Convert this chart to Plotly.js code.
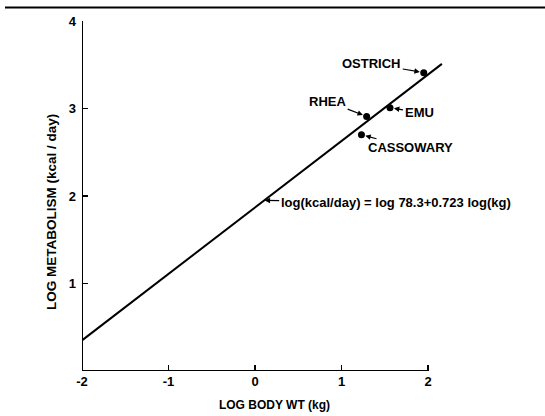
<!DOCTYPE html>
<html>
<head>
<meta charset="utf-8">
<script src="https://cdn.plot.ly/plotly-3.0.1.min.js"></script>
<style>html,body{margin:0;padding:0;background:#fff;}#chart{width:545px;height:416px;}</style>
</head>
<body>
<div id="chart"></div>
<script>
// Regression line endpoints
const lineX = [-2.0, 2.16];
const lineY = [0.35, 3.51];

// Species points
const species = ["OSTRICH", "RHEA", "EMU", "CASSOWARY"];
const logWt = [1.95, 1.29, 1.56, 1.23];
const logMet = [3.41, 2.91, 3.01, 2.70];

// Label offsets (pixels, text centre relative to point)
const labelAx = [-52, -39, 29, 49];
const labelAy = [-9, -15, 5, 13];

const xTicks = [-2, -1, 0, 1, 2];
const xTickText = ["-2", "-1", "0", "1", "2"];
const yTicks = [1, 2, 3, 4];
const yTickText = ["1", "2", "3", "4"];

const equation = "log(kcal/day) = log 78.3+0.723 log(kg)";
const eqPoint = [0.10, 1.95];

const FONT = "Liberation Sans, Arial, sans-serif";

const traces = [
  {x: lineX, y: lineY, mode: "lines", line: {color: "#000", width: 2}, hoverinfo: "skip"},
  {x: logWt, y: logMet, mode: "markers", marker: {color: "#000", size: 7}, text: species}
];

const annotations = species.map((s, i) => ({
  x: logWt[i], y: logMet[i], xref: "x", yref: "y",
  text: "<b>" + s + "</b>", font: {family: FONT, size: 13, color: "#000"},
  showarrow: true, arrowhead: 2, arrowsize: 0.9, arrowwidth: 1.2, arrowcolor: "#000",
  standoff: 4, ax: labelAx[i], ay: labelAy[i]
}));
annotations.push({
  x: eqPoint[0], y: eqPoint[1], xref: "x", yref: "y",
  text: "<b>" + equation + "</b>", font: {family: FONT, size: 13, color: "#000"},
  showarrow: true, arrowhead: 2, arrowsize: 0.9, arrowwidth: 1.2, arrowcolor: "#000",
  standoff: 1, ax: 132, ay: 2
});

const L = 82, T = 21, W = 385, H = 350;
annotations.push({
  x: (51 - L) / W, y: 1 - (212 - T) / H, xref: "paper", yref: "paper", showarrow: false,
  xanchor: "center", yanchor: "middle",
  text: "<b>LOG METABOLISM (kcal / day)</b>", textangle: -90,
  font: {family: FONT, size: 13.5, color: "#000"}
});

const layout = {
  width: 545, height: 416,
  margin: {l: L, r: 545 - L - W, t: T, b: 416 - T - H},
  paper_bgcolor: "#fff", plot_bgcolor: "#fff",
  showlegend: false,
  xaxis: {
    range: [-2, 2.45], showgrid: false, zeroline: false, showline: false,
    tickvals: xTicks, ticktext: xTickText, ticks: "inside", ticklen: 6, tickwidth: 1.5, tickcolor: "#000",
    tickfont: {family: FONT, size: 13, color: "#000", weight: "bold"}, ticklabelstandoff: 1,
    title: {text: "<b>LOG BODY WT (kg)</b>", font: {family: FONT, size: 12, color: "#000"}, standoff: 12}
  },
  yaxis: {
    range: [0, 4], showgrid: false, zeroline: false, showline: false,
    tickvals: yTicks, ticktext: yTickText, ticks: "inside", ticklen: 6, tickwidth: 1.5, tickcolor: "#000",
    tickfont: {family: FONT, size: 13, color: "#000", weight: "bold"}, ticklabelstandoff: 5
  },
  shapes: [
    {type: "line", xref: "x", yref: "y", x0: -2, x1: 2, y0: 0, y1: 0, line: {color: "#000", width: 2}},
    {type: "line", xref: "x", yref: "y", x0: -2, x1: -2, y0: 0, y1: 4, line: {color: "#000", width: 2}},
    {type: "line", xref: "paper", yref: "paper", x0: (5 - L) / W, x1: (545 - L) / W,
     y0: 1 + (T - 7.5) / H, y1: 1 + (T - 7.5) / H, line: {color: "#000", width: 2}}
  ],
  annotations: annotations
};

Plotly.newPlot("chart", traces, layout, {displayModeBar: false, staticPlot: true});
</script>
</body>
</html>
